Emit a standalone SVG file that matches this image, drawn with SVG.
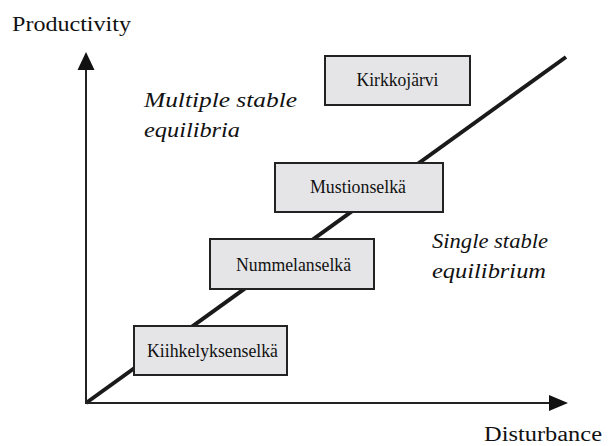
<svg xmlns="http://www.w3.org/2000/svg" width="609" height="446" viewBox="0 0 609 446">
<style>
.box{fill:#e5e5e7;stroke:#222;stroke-width:2}
text{font-family:'Liberation Serif','Times New Roman',Times,serif;fill:#111}
.lbl{font-size:18.5px;text-anchor:middle}
.ax{font-size:21px}
.it{font-size:21px;font-style:italic}
</style>
<rect width="609" height="446" fill="#fff"/>
<g id="connectors">
<line x1="86" y1="403" x2="566" y2="57" stroke="#1a1a1a" stroke-width="4"/>
<line x1="86" y1="404" x2="86" y2="68" stroke="#222" stroke-width="2"/>
<polygon points="86,52 77.5,70 94.5,70" fill="#111"/>
<line x1="85" y1="403" x2="551" y2="403" stroke="#222" stroke-width="2"/>
<polygon points="568,403 549,395 549,411" fill="#111"/>
</g>
<g id="axis-labels">
<text class="ax" x="12" y="31" textLength="119" lengthAdjust="spacingAndGlyphs">Productivity</text>
<text class="ax" x="484" y="441" style="font-size:20px" textLength="118" lengthAdjust="spacingAndGlyphs">Disturbance</text>
</g>
<g id="region-multiple">
<text class="it" x="144" y="107" textLength="153" lengthAdjust="spacingAndGlyphs">Multiple stable</text>
<text class="it" x="144" y="137" textLength="96" lengthAdjust="spacingAndGlyphs">equilibria</text>
</g>
<g id="region-single">
<text class="it" x="432" y="248" textLength="116" lengthAdjust="spacingAndGlyphs">Single stable</text>
<text class="it" x="432" y="278" textLength="114" lengthAdjust="spacingAndGlyphs">equilibrium</text>
</g>
<g id="node-kirkkojarvi">
<rect class="box" x="325" y="56" width="145" height="49"/>
<text class="lbl" x="397.5" y="86" textLength="82" lengthAdjust="spacingAndGlyphs">Kirkkojärvi</text>
</g>
<g id="node-mustionselka">
<rect class="box" x="275" y="163" width="168" height="49"/>
<text class="lbl" x="358" y="193" textLength="96" lengthAdjust="spacingAndGlyphs">Mustionselkä</text>
</g>
<g id="node-nummelanselka">
<rect class="box" x="210" y="239" width="164" height="50"/>
<text class="lbl" x="293.5" y="271" textLength="115" lengthAdjust="spacingAndGlyphs">Nummelanselkä</text>
</g>
<g id="node-kiihkelyksenselka">
<rect class="box" x="134" y="326" width="153" height="49"/>
<text class="lbl" x="212.5" y="357" textLength="131" lengthAdjust="spacingAndGlyphs">Kiihkelyksenselkä</text>
</g>
</svg>
